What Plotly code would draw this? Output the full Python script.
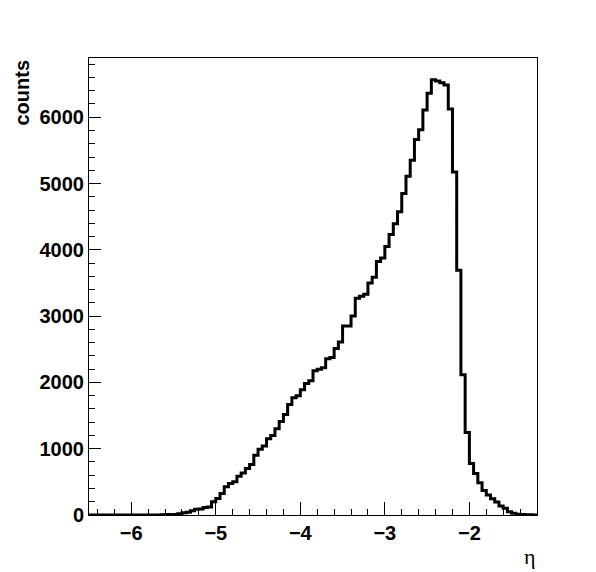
import plotly.graph_objects as go

# Histogram binning (eta)
x_min = -6.5
bin_width = 0.05

# Counts per bin (106 bins from -6.5 to -1.2)
counts = [
    0, 0, 0, 0, 0, 0, 0, 0, 0, 0,
    0, 0, 0, 0, 0, 0, 0, 3, 8, 5,
    8, 20, 35, 40, 65, 85, 90, 115, 120, 200,
    250, 325, 425, 475, 500, 585, 635, 700, 760, 900,
    990, 1040, 1150, 1200, 1300, 1410, 1515, 1665, 1770, 1800,
    1890, 1985, 2025, 2175, 2200, 2220, 2355, 2375, 2510, 2610,
    2850, 2850, 3000, 3270, 3300, 3330, 3500, 3585, 3825, 3875,
    4050, 4230, 4395, 4575, 4850, 5110, 5350, 5665, 5810, 6110,
    6360, 6565, 6545, 6520, 6485, 6125, 5175, 3690, 2115, 1245,
    775, 625, 485, 370, 300, 245, 195, 135, 100, 50,
    25, 12, 8, 4, 2, 1,
]

x_tick_vals = [-6, -5, -4, -3, -2]
y_tick_vals = [0, 1000, 2000, 3000, 4000, 5000, 6000]

edges = [x_min + bin_width * i for i in range(len(counts) + 1)]
x_max = edges[-1]
y_step = counts + [counts[-1]]

fig = go.Figure()
fig.add_trace(go.Scatter(
    x=edges, y=y_step, mode="lines", line_shape="hv",
    line=dict(color="black", width=3), showlegend=False,
))

font_family = "Liberation Sans, Arial, Helvetica, sans-serif"
serif_family = "Liberation Serif, DejaVu Serif, serif"

fig.update_layout(
    width=596, height=572,
    margin=dict(l=81, r=67, t=50, b=65),
    paper_bgcolor="white", plot_bgcolor="white",
    font=dict(family=font_family, color="black"),
    xaxis=dict(
        range=[x_min, x_max], showgrid=False, zeroline=False,
        showline=True, linecolor="black", linewidth=1, mirror=True,
        ticks="inside", ticklen=13, tickwidth=1, tickcolor="black",
        tickvals=x_tick_vals,
        tickfont=dict(size=20, family=font_family, weight="bold"),
        minor=dict(dtick=0.2, tick0=0, ticks="inside", ticklen=6, tickcolor="black", showgrid=False),
    ),
    yaxis=dict(
        range=[0, max(counts) * 1.05], showgrid=False, zeroline=False,
        showline=True, linecolor="black", linewidth=1, mirror=True,
        ticks="inside", ticklen=12, tickwidth=1, tickcolor="black",
        tickvals=y_tick_vals,
        tickfont=dict(size=20, family=font_family, weight="bold"),
        minor=dict(dtick=200, tick0=0, ticks="inside", ticklen=6, tickcolor="black", showgrid=False),
    ),
    annotations=[
        dict(text="counts", textangle=-90, xref="paper", yref="paper",
             x=(21.5 - 89) / 448, y=1.0, xanchor="center", yanchor="top",
             showarrow=False, font=dict(size=20, family=font_family, weight="bold")),
        dict(text="η", xref="paper", yref="paper",
             x=(530 - 89) / 448, y=(515 - 556) / 457, xanchor="center", yanchor="middle",
             showarrow=False, font=dict(size=22, family=serif_family)),
    ],
)

fig.write_html("out.html")
